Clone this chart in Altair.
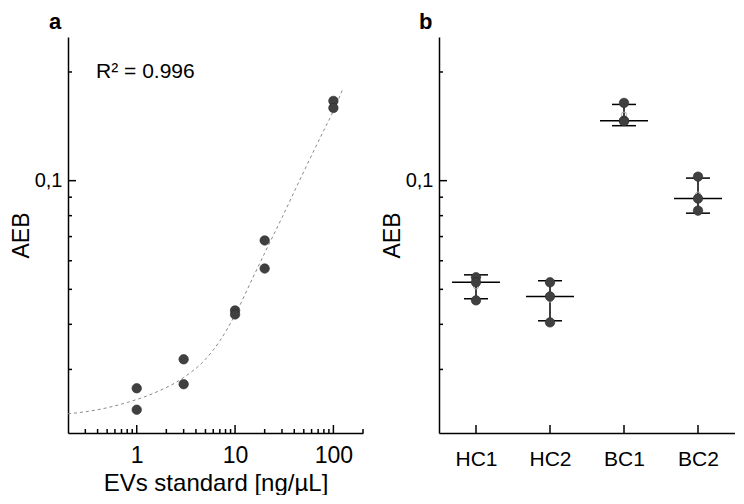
import altair as alt
import pandas as pd

# ---------------- data ----------------
# panel a: standard curve
conc = [1, 1, 3, 3, 10, 10, 20, 20, 100, 100]
aeb_std = [0.0266, 0.0232, 0.0320, 0.0273, 0.0437, 0.0426, 0.0683, 0.0571, 0.1663, 0.1590]

# dashed fit curve
fit_x = [0.2, 0.4, 0.8, 1.5, 3, 5, 7, 10, 15, 20, 30, 50, 80, 100, 125]
fit_y = [0.0226, 0.0232, 0.0243, 0.0258, 0.0285, 0.0320, 0.0360, 0.0425, 0.0535,
         0.0630, 0.0790, 0.1060, 0.1380, 0.1560, 0.1800]

r2_label = ["R² = 0.996"]
r2_x = [0.386]
r2_y = [0.2]

# panel b: samples
categories = ["HC1", "HC2", "BC1", "BC2"]
sample_group = ["HC1", "HC1", "HC1", "HC2", "HC2", "HC2",
                "BC1", "BC1", "BC1", "BC2", "BC2", "BC2"]
sample_aeb = [0.0540, 0.0523, 0.0466, 0.0523, 0.0478, 0.0405,
              0.1642, 0.1465, 0.1462, 0.1026, 0.0892, 0.0826]

# tick positions
x_major = [1, 10, 100]
x_minor = [0.3, 0.4, 0.5, 0.6, 0.7, 0.8, 0.9, 2, 3, 4, 5, 6, 7, 8, 9,
           20, 30, 40, 50, 60, 70, 80, 90, 200]
y_major = [0.1]
y_minor = [0.03, 0.04, 0.05, 0.06, 0.07, 0.08, 0.09, 0.2]

# ---------------- styling ----------------
FONT = "Liberation Sans"
H = 396
POINT_COLOR = "#404040"

df_std = pd.DataFrame({"conc": conc, "aeb": aeb_std})
df_fit = pd.DataFrame({"conc": fit_x, "aeb": fit_y})
df_r2 = pd.DataFrame({"label": r2_label, "conc": r2_x, "aeb": r2_y})
df_b = pd.DataFrame({"group": sample_group, "aeb": sample_aeb})
df_xmaj = pd.DataFrame({"conc": x_major})
df_xmin = pd.DataFrame({"conc": x_minor})
df_ymaj = pd.DataFrame({"aeb": y_major})
df_ymin = pd.DataFrame({"aeb": y_minor})
df_cat = pd.DataFrame({"group": categories})

yscale = alt.Scale(type="log", domain=[0.02, 0.25])
xscale = alt.Scale(type="log", domain=[0.2, 200])
cscale = alt.Scale(type="point", padding=0.5, domain=categories)

yaxis = alt.Axis(values=y_major, labelExpr="replace(format(datum.value, '.1f'), '.', ',')",
                 ticks=False, grid=False, domainColor="black", domainWidth=1.5,
                 labelFont=FONT, labelFontSize=20, labelColor="black", labelPadding=6,
                 title="AEB", titleFont=FONT, titleFontSize=23, titleFontWeight="normal",
                 titleColor="black", titlePadding=1)

xaxis_a = alt.Axis(values=x_major, format="~g", ticks=False, grid=False,
                   domainColor="black", domainWidth=1.5,
                   labelFont=FONT, labelFontSize=23, labelColor="black", labelPadding=11,
                   title="EVs standard [ng/µL]", titleFont=FONT, titleFontSize=24,
                   titleFontWeight="normal", titleColor="black", titlePadding=4)

xaxis_b = alt.Axis(ticks=False, grid=False, labelAngle=0,
                   domainColor="black", domainWidth=1.5,
                   labelFont=FONT, labelFontSize=21, labelColor="black", labelPadding=15,
                   title=None)

Y = lambda f: alt.Y(f, scale=yscale, axis=yaxis)
XA = lambda f: alt.X(f, scale=xscale, axis=xaxis_a)
XB = lambda f: alt.X(f, scale=cscale, axis=xaxis_b)

def x_ticks(df, field, X, length):
    return alt.Chart(df).mark_tick(orient="vertical", color="black", thickness=1.5,
                                   size=length, opacity=1).encode(
        x=X(field), y=alt.value(H - length / 2))

def y_ticks(df, length):
    return alt.Chart(df).mark_tick(orient="horizontal", color="black", thickness=1.5,
                                   size=length, opacity=1).encode(
        y=Y("aeb:Q"), x=alt.value(length / 2))

# ---------------- panel a ----------------
fit = alt.Chart(df_fit).mark_line(color="#8a8a8a", strokeWidth=1, strokeDash=[3, 3],
                                  interpolate="monotone").encode(x=XA("conc:Q"), y=Y("aeb:Q"))
pts_a = alt.Chart(df_std).mark_circle(size=90, color=POINT_COLOR, opacity=1,
                                      stroke="#2a2a2a", strokeWidth=0.6).encode(
    x=XA("conc:Q"), y=Y("aeb:Q"))
r2 = alt.Chart(df_r2).mark_text(align="left", baseline="middle", font=FONT, fontSize=21,
                                color="black").encode(x=XA("conc:Q"), y=Y("aeb:Q"), text="label:N")

panel_a = alt.layer(
    fit, pts_a, r2,
    x_ticks(df_xmaj, "conc:Q", XA, 8), x_ticks(df_xmin, "conc:Q", XA, 4),
    y_ticks(df_ymaj, 8), y_ticks(df_ymin, 4),
).properties(
    width=295, height=H,
    title=alt.TitleParams("a", anchor="start", frame="group", font=FONT, fontSize=22,
                          fontWeight="bold", color="black", dx=-19, offset=3))

# ---------------- panel b ----------------
summary = alt.Chart(df_b).transform_aggregate(
    m="mean(aeb)", sd="stdev(aeb)", med="median(aeb)", groupby=["group"]
).transform_calculate(lo="datum.m - datum.sd", hi="datum.m + datum.sd")

bar_rule = summary.mark_rule(color="black", strokeWidth=1.5).encode(
    x=XB("group:N"), y=Y("lo:Q"), y2="hi:Q")
cap_lo = summary.mark_tick(color="black", size=24, thickness=1.5, opacity=1).encode(
    x=XB("group:N"), y=Y("lo:Q"))
cap_hi = summary.mark_tick(color="black", size=24, thickness=1.5, opacity=1).encode(
    x=XB("group:N"), y=Y("hi:Q"))
med_tick = summary.mark_tick(color="black", size=48, thickness=1.5, opacity=1).encode(
    x=XB("group:N"), y=Y("med:Q"))
mean_pt = summary.mark_point(shape="circle", size=28, color="#b0b0b0", filled=False,
                             strokeWidth=1, opacity=1).encode(x=XB("group:N"), y=Y("m:Q"))
pts_b = alt.Chart(df_b).mark_circle(size=90, color=POINT_COLOR, opacity=1,
                                    stroke="#2a2a2a", strokeWidth=0.6).encode(
    x=XB("group:N"), y=Y("aeb:Q"))

panel_b = alt.layer(
    bar_rule, cap_lo, cap_hi, med_tick, mean_pt, pts_b,
    x_ticks(df_cat, "group:N", XB, 8), y_ticks(df_ymaj, 8), y_ticks(df_ymin, 4),
).properties(
    width=296, height=H,
    title=alt.TitleParams("b", anchor="start", frame="group", font=FONT, fontSize=22,
                          fontWeight="bold", color="black", dx=-20, offset=3))

chart = alt.hconcat(panel_a, panel_b, spacing=17).properties(
    padding={"left": 2, "top": 3, "right": 0, "bottom": 0}
).configure_view(stroke=None).configure_axis(grid=False)

chart.save("out.html", embed_options={"renderer": "svg", "actions": False})
